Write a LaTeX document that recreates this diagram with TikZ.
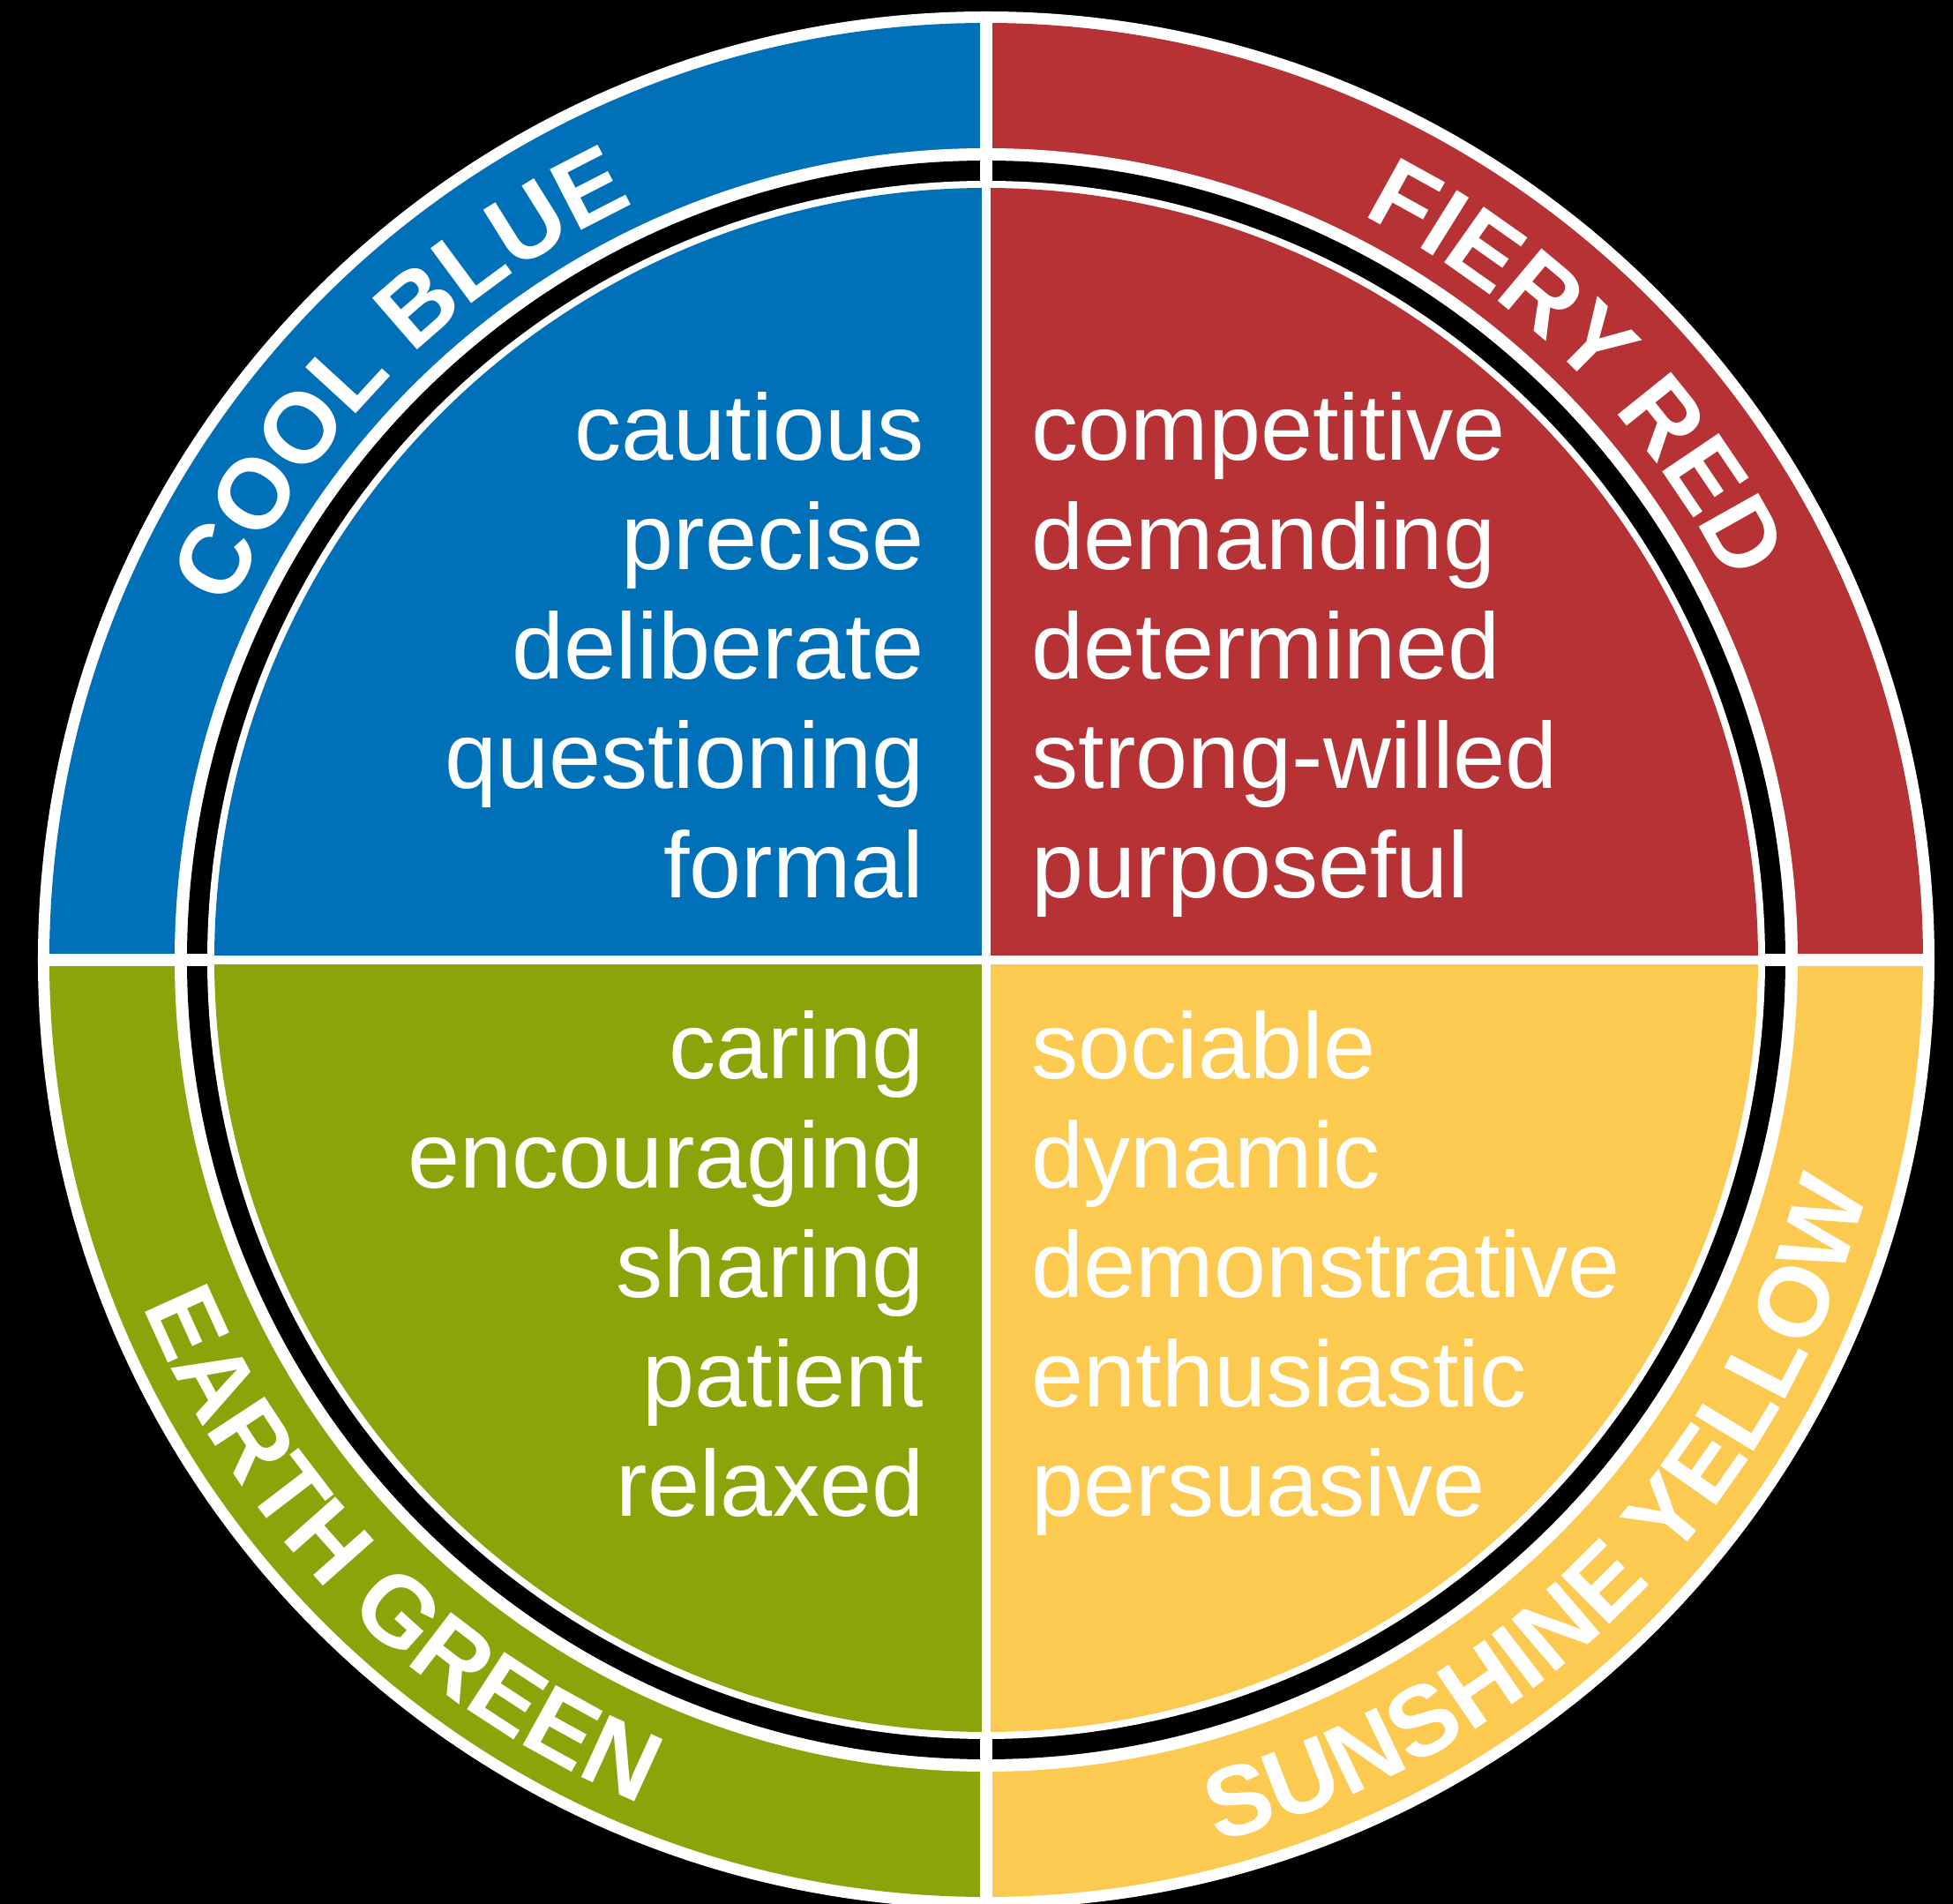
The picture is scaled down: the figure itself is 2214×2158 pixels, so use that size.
\documentclass[tikz,border=0pt]{standalone}
\usepackage{fontspec}
\setmainfont{Liberation Sans}
\usetikzlibrary{decorations.text}
\definecolor{cblue}{RGB}{0,112,185}
\definecolor{cred}{RGB}{182,50,52}
\definecolor{cgreen}{RGB}{139,164,10}
\definecolor{cyellow}{RGB}{252,202,80}
\begin{document}
\begin{tikzpicture}[x=0.01cm,y=0.01cm,
  word/.style={text=white, inner sep=0pt, font=\fontsize{30.2}{36}\selectfont},
  wordleft/.style={word, anchor=base east},
  wordright/.style={word, anchor=base west},
  arclabel/.style={decorate, decoration={text along path, text align=center,
     text={|\color{white}\bfseries\fontsize{32}{32}\selectfont|#1}}},
  outerdiv/.style={white, line width=0.14cm},
  innerdiv/.style={white, line width=0.095cm}]
\useasboundingbox (-1118,-1070) rectangle (1096,1088);
\fill[black] (-1118,-1070) rectangle (1096,1088);
\fill[white] (0,0) circle[radius=1075];
% outer ring sectors
\foreach \c/\a in {cred/0, cblue/90, cgreen/180, cyellow/270}
  \fill[\c] (0,0) -- (\a:1062) arc[start angle=\a, end angle=\a+90, radius=1062] -- cycle;
\fill[white] (0,0) circle[radius=920];
\fill[black] (0,0) circle[radius=906];
\fill[white] (0,0) circle[radius=883];
% inner sectors
\foreach \c/\a in {cred/0, cblue/90, cgreen/180, cyellow/270}
  \fill[\c] (0,0) -- (\a:875) arc[start angle=\a, end angle=\a+90, radius=875] -- cycle;
% dividers
\draw[outerdiv] (0,883) -- (0,1070);
\draw[outerdiv] (0,-883) -- (0,-1070);
\draw[outerdiv] (883,0) -- (1070,0);
\draw[outerdiv] (-883,0) -- (-1070,0);
\draw[innerdiv] (0,-876) -- (0,876);
\draw[innerdiv] (-876,0) -- (876,0);
% ring labels
\path[arclabel={COOL BLUE}] (180:945) arc[start angle=180, end angle=90, radius=945];
\path[arclabel={FIERY RED}] (90:945) arc[start angle=90, end angle=0, radius=945];
\path[arclabel={EARTH GREEN}] (180:1033) arc[start angle=180, end angle=270, radius=1033];
\path[arclabel={SUNSHINE YELLOW}] (270:1033) arc[start angle=270, end angle=360, radius=1033];
% blue words
\node[wordleft] (b1) at (-70,566) {cautious};
\node[wordleft] (b2) at (-70,442) {precise};
\node[wordleft] (b3) at (-70,318) {deliberate};
\node[wordleft] (b4) at (-70,194) {questioning};
\node[wordleft] (b5) at (-70,70) {formal};
% red words
\node[wordright] (r1) at (51,566) {competitive};
\node[wordright] (r2) at (51,442) {demanding};
\node[wordright] (r3) at (51,318) {determined};
\node[wordright] (r4) at (51,194) {strong-willed};
\node[wordright] (r5) at (51,70) {purposeful};
% green words
\node[wordleft] (g1) at (-70,-135) {caring};
\node[wordleft] (g2) at (-70,-259) {encouraging};
\node[wordleft] (g3) at (-70,-383) {sharing};
\node[wordleft] (g4) at (-70,-507) {patient};
\node[wordleft] (g5) at (-70,-631) {relaxed};
% yellow words
\node[wordright] (y1) at (51,-135) {sociable};
\node[wordright] (y2) at (51,-259) {dynamic};
\node[wordright] (y3) at (51,-383) {demonstrative};
\node[wordright] (y4) at (51,-507) {enthusiastic};
\node[wordright] (y5) at (51,-631) {persuasive};
\end{tikzpicture}
\end{document}
